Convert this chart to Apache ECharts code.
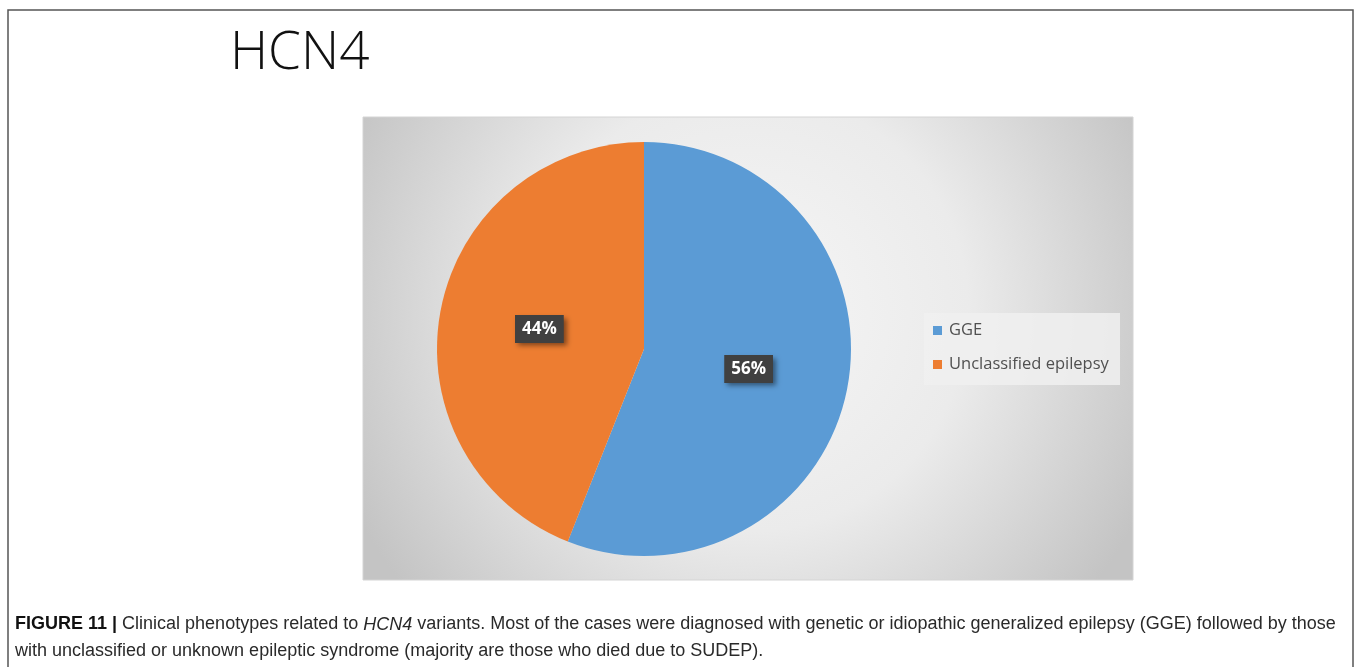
<!DOCTYPE html>
<html><head><meta charset="utf-8">
<script src="https://cdn.jsdelivr.net/npm/echarts@6/dist/echarts.min.js"></script>
<style>html,body{margin:0;padding:0;background:#fff}#c{width:1358px;height:667px}</style>
</head><body><div id="c"></div>
<script>
const categories = ['GGE', 'Unclassified epilepsy'];
const values = [56, 44];
const colors = ['#5b9bd5', '#ed7d31'];
const titleText = 'HCN4';

const chart = echarts.init(document.getElementById('c'), null, {renderer: 'canvas'});
const option = {
  animation: false,
  title: {
    text: titleText, left: 225, top: 22,
    textStyle: {fontFamily: 'Open Sans', fontWeight: 300, fontSize: 53, color: '#111'}
  },
  legend: {
    orient: 'vertical', left: 933, top: 322,
    data: categories, icon: 'rect', itemWidth: 9, itemHeight: 9, itemGap: 17,
    padding: 0,
    textStyle: {fontFamily: 'Open Sans', fontSize: 16.5, color: '#505050', padding: [0,0,0,2]},
    selectedMode: false
  },
  graphic: [
    {type: 'rect', z: -10, shape: {x: 8, y: 10, width: 1345, height: 680},
     style: {fill: '#fff', stroke: '#555', lineWidth: 1.5}},
    {type: 'rect', z: -5, shape: {x: 363, y: 117, width: 770, height: 463},
     style: {fill: {type: 'radial', x: 0.5, y: 0.42, r: 0.95,
       colorStops: [{offset: 0, color: '#f6f6f6'}, {offset: 0.5, color: '#ebebeb'}, {offset: 1, color: '#c4c4c4'}]},
       stroke: '#d4d4d4', lineWidth: 1}},
    {type: 'rect', z: -4, shape: {x: 924, y: 313, width: 196, height: 72},
     style: {fill: 'rgba(240,240,240,0.85)'}},
    {type: 'text', left: 15, top: 611, z: 5,
     style: {
       text: '{b|FIGURE 11 |} Clinical phenotypes related to {i|HCN4} variants. Most of the cases were diagnosed with genetic or idiopathic generalized epilepsy (GGE) followed by those\nwith unclassified or unknown epileptic syndrome (majority are those who died due to SUDEP).',
       font: '18px "Liberation Sans"', fill: '#2a2a2a', lineHeight: 27,
       rich: {
         b: {fontWeight: 'bold', fontFamily: 'Liberation Sans', fontSize: 18, fill: '#111', lineHeight: 27},
         i: {fontStyle: 'italic', fontFamily: 'Liberation Sans', fontSize: 18, lineHeight: 27}
       }
     }}
  ],
  series: [{
    type: 'pie', center: [644, 349], radius: [0, 207], startAngle: 90, clockwise: true,
    data: categories.map((c, i) => ({name: c, value: values[i], itemStyle: {color: colors[i]}})),
    label: {
      show: true, position: 'inside', formatter: '{d}%',
      fontFamily: 'Open Sans', fontWeight: 'bold', fontSize: 17, color: '#fff',
      backgroundColor: '#404040', padding: [6, 7, 5, 7],
      shadowColor: 'rgba(0,0,0,0.45)', shadowBlur: 5, shadowOffsetX: 3, shadowOffsetY: 3
    },
    labelLine: {show: false},
    emphasis: {disabled: true}
  }]
};
chart.setOption(option);
</script></body></html>
